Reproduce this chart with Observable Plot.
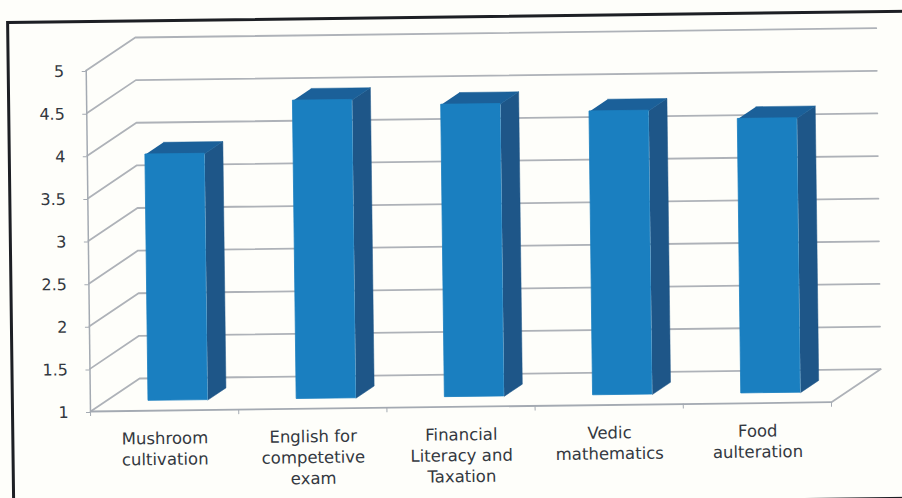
<!DOCTYPE html>
<html>
<head>
<meta charset="utf-8">
<script src="https://cdn.jsdelivr.net/npm/d3@7"></script>
<script src="https://cdn.jsdelivr.net/npm/@observablehq/plot@0.6"></script>
<style>
html,body{margin:0;padding:0;width:902px;height:498px;overflow:hidden;background:#fefefa;}
#page{position:absolute;left:0;top:0;width:902px;height:498px;transform-origin:90px 411px;transform:rotate(-0.72deg);}
#frame{position:absolute;left:11px;top:20px;width:960px;height:484px;border:3.5px solid #1d1f24;}
#page svg{position:absolute;left:0;top:0;background:transparent;overflow:visible;}
</style>
</head>
<body>
<div id="page"><div id="frame"></div></div>
<script>
const categories = ["Mushroom\ncultivation","English for\ncompetetive\nexam","Financial\nLiteracy and\nTaxation","Vedic\nmathematics","Food\naulteration"];
const values = [3.89, 4.5, 4.43, 4.33, 4.22];
const tickValues = [1,1.5,2,2.5,3,3.5,4,4.5,5];
const slots = [0,1,2,3,4,5];

// oblique depth of the chart, expressed in data units
const depthX = 0.334, depthY = 0.38;
const barStart = 0.29, barEnd = 0.69, depthFront = 0.306, depthBack = 0.676;
const px = (u,w) => u + w*depthX;
const py = (v,w) => v + w*depthY;

const wall = tickValues.flatMap(v => [
  {id:v, x:px(0,0), y:py(v,0)},
  {id:v, x:px(0,1), y:py(v,1)},
  {id:v, x:px(5,1), y:py(v,1)}
]);
const floorEdge = [{x:px(5,0),y:py(1,0)},{x:px(5,1),y:py(1,1)}];
const bars = values.map((v,i)=>({
  name: categories[i],
  x1: px(i+barStart,depthFront), x2: px(i+barEnd,depthFront),
  y1: py(1,depthFront), y2: py(v,depthFront)
}));
const sides = values.flatMap((v,i)=>[
  {id:i,x:px(i+barEnd,depthFront),y:py(1,depthFront)},
  {id:i,x:px(i+barEnd,depthBack),y:py(1,depthBack)},
  {id:i,x:px(i+barEnd,depthBack),y:py(v,depthBack)},
  {id:i,x:px(i+barEnd,depthFront),y:py(v,depthFront)}
]);
const tops = values.flatMap((v,i)=>[
  {id:i,x:px(i+barStart,depthFront),y:py(v,depthFront)},
  {id:i,x:px(i+barEnd,depthFront),y:py(v,depthFront)},
  {id:i,x:px(i+barEnd,depthBack),y:py(v,depthBack)},
  {id:i,x:px(i+barStart,depthBack),y:py(v,depthBack)}
]);
const labels = categories.map((c,i)=>({c,x:i+0.5}));

const gridColor = "#aeb2b8", axisColor = "#a4aab2", textColor = "#33383f";

const chart = Plot.plot({
  width:902, height:498, marginLeft:90, marginRight:71, marginTop:70, marginBottom:87,
  style:{background:"transparent",fontFamily:"'DejaVu Sans',sans-serif",fontSize:"16px",color:textColor,overflow:"visible"},
  x:{domain:[0,5],range:[90,831]},
  y:{domain:[1,5],range:[411,70]},
  marks:[
    Plot.line(wall,{x:"x",y:"y",z:"id",stroke:gridColor,strokeWidth:1.8}),
    Plot.line(floorEdge,{x:"x",y:"y",stroke:gridColor,strokeWidth:1.8}),
    Plot.ruleX([0],{y1:1,y2:5,stroke:axisColor,strokeWidth:1.5}),
    Plot.ruleY([1],{x1:0,x2:5,stroke:axisColor,strokeWidth:1.8}),
    Plot.axisY({ticks:tickValues,tickSize:4,tickPadding:18,stroke:axisColor,fill:textColor,tickFormat:d=>String(d),label:null,fontSize:16,dy:1}),
    Plot.axisX({ticks:slots,tickSize:5,tickFormat:()=>"",label:null,stroke:axisColor}),
    Plot.line(sides,{x:"x",y:"y",z:"id",fill:"#1e5688",stroke:"#1e5688",strokeWidth:0.5}),
    Plot.line(tops,{x:"x",y:"y",z:"id",fill:"#1b6099",stroke:"#1b6099",strokeWidth:0.5}),
    Plot.rect(bars,{x1:"x1",x2:"x2",y1:"y1",y2:"y2",fill:"#1a7fc0",stroke:"#1a7fc0",strokeWidth:0.8}),
    Plot.text(labels,{x:"x",y:1,text:"c",dy:18.5,lineAnchor:"top",lineHeight:1.27,fill:textColor,fontSize:16.5,
      style:{letterSpacing:"0.9px"}})
  ]
});
document.getElementById("page").appendChild(chart);
</script>
</body>
</html>
